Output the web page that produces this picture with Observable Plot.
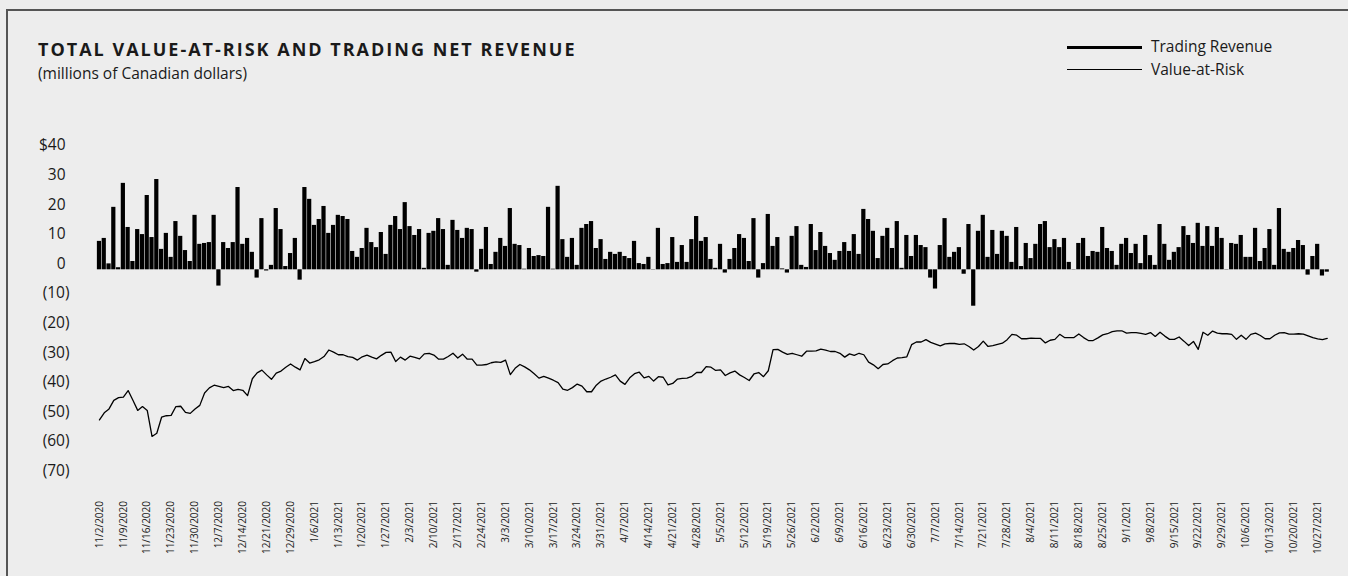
<!DOCTYPE html>
<html><head><meta charset="utf-8">
<script src="https://cdn.jsdelivr.net/npm/d3@7"></script>
<script src="https://cdn.jsdelivr.net/npm/@observablehq/plot@0.6"></script>
<style>
html,body{margin:0;padding:0;background:#ededed;}
body{width:1348px;height:576px;overflow:hidden;position:relative;font-family:"Open Sans",sans-serif;color:#1a1a1a;}
#frame{position:absolute;left:6px;top:9px;width:1400px;height:620px;border:2px solid #555;box-sizing:border-box;pointer-events:none;}
#header{position:relative;height:100px;}
#title{position:absolute;left:38px;top:40px;font-weight:700;font-size:18px;line-height:1;letter-spacing:2px;white-space:nowrap;}
#subtitle{position:absolute;left:38px;top:66.2px;font-size:15.5px;line-height:1;font-weight:400;white-space:nowrap;}
.lg-line{position:absolute;left:1067px;width:75px;background:#000;}
.lg-text{position:absolute;left:1151px;font-size:15.5px;line-height:1;white-space:nowrap;}
#chart{position:relative;}
</style>
</head>
<body>
<div id="frame"></div>
<div id="header">
  <div id="title">TOTAL VALUE-AT-RISK AND TRADING NET REVENUE</div>
  <div id="subtitle">(millions of Canadian dollars)</div>
  <div class="lg-line" style="top:45.7px;height:3px"></div>
  <div class="lg-text" style="top:38.7px">Trading Revenue</div>
  <div class="lg-line" style="top:68.7px;height:1.3px"></div>
  <div class="lg-text" style="top:61.7px">Value-at-Risk</div>
</div>
<div id="chart"></div>
<script>
// Daily trading net revenue (millions C$), one value per trading day from 11/2/2020
const tradingRevenue = [
 9.6,10.6,2.0,21.1,0.7,29.2,14.3,2.8,13.6,11.9,25.1,10.9,30.5,6.9,12.3,4.2,16.3,11.3,6.5,2.8,
 18.4,8.6,8.9,9.2,18.4,-5.5,9.2,7.2,9.2,27.8,8.6,10.6,5.9,-2.8,17.3,-0.4,1.5,20.7,13.6,1.1,
 5.5,10.6,-3.5,27.8,23.8,15.0,17.0,21.4,12.3,15.0,18.4,18.0,17.0,6.2,4.2,7.2,14.0,9.2,7.5,12.6,
 5.2,15.0,18.0,13.6,22.7,14.6,11.6,13.6,0.5,12.3,13.0,17.3,13.6,1.5,16.7,13.3,10.6,14.0,13.6,-0.8,
 6.9,14.3,1.8,5.9,10.6,7.9,20.7,8.6,8.2,0.2,7.2,4.5,4.8,4.5,21.1,0.2,28.2,10.2,4.2,10.6,
 1.5,14.0,15.3,16.3,7.2,10.2,3.5,5.9,5.2,5.9,4.5,3.8,9.6,2.1,1.8,4.2,0.1,14.0,1.8,2.1,
 10.9,2.5,8.2,2.5,10.2,18.0,9.6,10.9,3.5,0.5,8.6,-1.1,3.5,7.2,11.9,10.6,2.8,17.3,-2.8,2.1,
 18.7,7.9,10.9,0.3,-1.1,11.3,14.6,1.5,0.8,15.3,6.5,12.6,7.9,5.5,3.2,6.2,9.2,6.2,11.9,5.2,
 20.4,17.0,13.0,3.8,11.3,14.0,7.2,16.3,0.5,11.6,4.5,11.6,8.2,7.5,-2.8,-6.5,8.2,17.3,4.2,5.9,
 7.5,-1.5,15.3,-12.3,13.0,18.4,4.2,13.3,5.2,13.0,11.3,2.5,14.3,1.1,8.9,3.8,8.6,15.3,16.3,7.5,
 10.2,7.5,10.6,2.5,0.1,8.9,10.6,4.5,6.2,5.9,14.3,7.2,6.2,1.5,8.6,10.6,5.5,8.6,2.1,11.6,
 4.8,1.5,15.3,8.6,3.2,5.9,7.5,14.6,11.6,8.9,15.7,7.9,14.6,7.9,14.3,10.6,0.1,8.9,8.6,11.6,
 4.2,4.2,14.0,2.8,7.2,13.6,1.5,20.7,6.9,5.9,7.2,9.9,8.2,-1.8,4.5,8.6,-2.1,-0.8
];
// Total Value-at-Risk (millions C$), same trading days
const valueAtRisk = [
 -50.7,-48.3,-47.0,-44.1,-43.2,-43.0,-40.8,-44.1,-47.5,-46.2,-47.5,-56.3,-55.2,-49.8,-49.3,-49.2,-46.2,-46.1,-48.2,-48.5,
 -47.0,-45.8,-41.6,-39.9,-39.0,-39.4,-39.8,-39.4,-40.8,-40.4,-40.7,-42.5,-36.8,-34.8,-33.9,-35.5,-37.0,-34.9,-34.2,-32.9,
 -31.8,-32.9,-33.8,-30.0,-31.5,-31.0,-30.4,-29.3,-27.1,-27.8,-28.7,-28.7,-29.3,-29.6,-30.5,-29.4,-28.8,-29.5,-30.1,-28.9,
 -27.9,-27.8,-31.0,-29.5,-30.5,-29.2,-29.6,-30.1,-28.4,-28.2,-28.8,-30.2,-30.2,-29.3,-28.2,-29.8,-28.5,-30.2,-30.2,-32.2,
 -32.2,-32.0,-31.4,-31.1,-31.3,-30.5,-35.4,-33.3,-32.0,-32.8,-33.8,-35.1,-36.6,-36.0,-36.6,-37.3,-38.1,-40.3,-40.7,-39.8,
 -38.6,-39.3,-41.2,-41.2,-39.0,-37.6,-36.9,-36.3,-35.5,-37.6,-38.7,-36.5,-35.1,-34.6,-36.5,-36.0,-37.6,-36.1,-36.3,-38.9,
 -38.4,-36.9,-36.7,-36.6,-36.0,-34.7,-34.7,-32.7,-32.9,-34.0,-33.8,-35.7,-34.8,-34.2,-35.5,-36.4,-37.4,-35.2,-34.7,-36.1,
 -34.1,-27.0,-26.9,-27.8,-28.6,-28.2,-28.7,-29.2,-27.5,-27.5,-27.4,-26.8,-27.1,-27.6,-27.6,-28.2,-29.5,-28.4,-28.9,-28.2,
 -28.7,-31.2,-32.1,-33.4,-32.0,-31.8,-30.7,-29.8,-29.7,-29.4,-25.3,-24.4,-24.4,-23.6,-24.5,-25.1,-25.7,-25.0,-24.9,-24.9,
 -25.2,-25.0,-25.9,-27.1,-25.9,-24.1,-25.9,-25.6,-25.2,-24.8,-23.6,-21.8,-22.1,-23.3,-23.3,-23.1,-23.2,-23.2,-24.7,-23.8,
 -23.5,-21.8,-22.9,-22.9,-22.9,-21.7,-22.9,-23.9,-23.9,-23.0,-22.0,-21.6,-20.9,-20.6,-20.6,-21.4,-21.2,-21.2,-21.5,-21.8,
 -21.2,-22.5,-21.1,-22.4,-23.5,-23.5,-22.7,-24.1,-25.6,-24.2,-26.9,-21.1,-22.1,-20.7,-21.4,-21.6,-21.6,-21.8,-23.5,-22.1,
 -23.5,-21.8,-21.4,-22.2,-23.3,-23.3,-22.1,-21.3,-21.2,-21.7,-21.7,-21.6,-21.7,-22.3,-22.9,-23.3,-23.6,-23.2
];
// Weekly axis labels (every 5th trading day)
const weekLabels = [
 "11/2/2020","11/9/2020","11/16/2020","11/23/2020","11/30/2020","12/7/2020","12/14/2020","12/21/2020","12/29/2020",
 "1/6/2021","1/13/2021","1/20/2021","1/27/2021","2/3/2021","2/10/2021","2/17/2021","2/24/2021","3/3/2021","3/10/2021",
 "3/17/2021","3/24/2021","3/31/2021","4/7/2021","4/14/2021","4/21/2021","4/28/2021","5/5/2021","5/12/2021","5/19/2021",
 "5/26/2021","6/2/2021","6/9/2021","6/16/2021","6/23/2021","6/30/2021","7/7/2021","7/14/2021","7/21/2021","7/28/2021",
 "8/4/2021","8/11/2021","8/18/2021","8/25/2021","9/1/2021","9/8/2021","9/15/2021","9/22/2021","9/29/2021","10/6/2021",
 "10/13/2021","10/20/2021","10/27/2021"
];
const posTicks = [40, 30, 20, 10, 0];
const negTicks = [-10, -20, -30, -40, -50, -60, -70];

const days = tradingRevenue.map((_, i) => i);
const data = days.map(i => ({day: i, revenue: tradingRevenue[i], var: valueAtRisk[i]}));
const labelDays = weekLabels.map((_, k) => k * 5);

const chart = Plot.plot({
  width: 1348,
  height: 476,
  marginLeft: 96.3,
  marginRight: 18.6,
  marginTop: 50.9,
  marginBottom: 99.5,
  style: {background: "transparent", fontFamily: "Open Sans, sans-serif", color: "#1a1a1a", overflow: "visible"},
  x: {type: "band", domain: days, padding: 0.12, align: 0.5, label: null},
  y: {domain: [-70, 40], label: null},
  marks: [
    Plot.barY(data, {x: "day", y: "revenue", fill: "#000"}),
    Plot.line(data, {x: "day", y: "var", stroke: "#000", strokeWidth: 1.3}),
    Plot.axisY({ticks: posTicks, tickFormat: d => d === 40 ? "$40" : String(d), tickSize: 0, tickPadding: 31.3, dy: -6, fontSize: 15.5, label: null}),
    Plot.axisY({ticks: negTicks, tickFormat: d => `(${-d})`, tickSize: 0, tickPadding: 27.3, dy: -6, fontSize: 15.5, label: null}),
    Plot.axisX({ticks: labelDays, tickFormat: d => weekLabels[d / 5], tickRotate: -90, tickSize: 0, tickPadding: 24, fontSize: 10, label: null})
  ]
});
document.getElementById("chart").appendChild(chart);
</script>
</body></html>
